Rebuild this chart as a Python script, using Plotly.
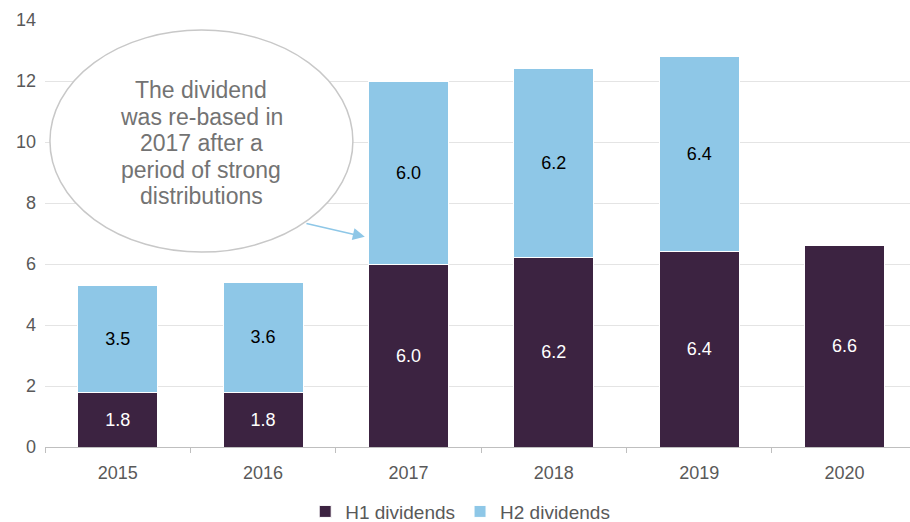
import plotly.graph_objects as go

# Dividend per share by year, split into interim (H1) and final (H2) payments
years = ["2015", "2016", "2017", "2018", "2019", "2020"]
h1_dividends = [1.8, 1.8, 6.0, 6.2, 6.4, 6.6]
h2_dividends = [3.5, 3.6, 6.0, 6.2, 6.4, None]
y_ticks = [0, 2, 4, 6, 8, 10, 12, 14]

callout_lines = ["The dividend", "was re-based in", "2017 after a",
                 "period of strong", "distributions"]

H1_COLOR = "#3C2341"
H2_COLOR = "#8EC7E7"
AXIS_TEXT = "#595959"
FONT = "Liberation Sans, Arial, sans-serif"


def fmt(values):
    return ["" if v is None else f"{v:.1f}" for v in values]


fig = go.Figure()
fig.add_trace(go.Bar(
    name="H1 dividends", x=years, y=h1_dividends,
    marker=dict(color=H1_COLOR, line=dict(color="white", width=1)),
    text=fmt(h1_dividends), textposition="inside", insidetextanchor="middle",
    textangle=0, textfont=dict(color="white", size=18, family=FONT),
    width=0.55,
))
fig.add_trace(go.Bar(
    name="H2 dividends", x=years, y=h2_dividends,
    marker=dict(color=H2_COLOR, line=dict(color="white", width=1)),
    text=fmt(h2_dividends), textposition="inside", insidetextanchor="middle",
    textangle=0, textfont=dict(color="black", size=18, family=FONT),
    width=0.55,
))

# Callout bubble explaining the 2017 re-basing
fig.add_shape(
    type="circle", xref="x", yref="y",
    x0=-0.466, x1=1.618, y0=6.39, y1=13.67,
    fillcolor="white", line=dict(color="#C8C8C8", width=1.5), layer="above",
)
# one annotation per line keeps the line spacing tight
line_top, line_step = 11.70, 0.868
for i, line in enumerate(callout_lines):
    fig.add_annotation(
        xref="x", yref="y", x=0.575, y=line_top - i * line_step,
        text=line, showarrow=False, yanchor="middle",
        font=dict(size=23, color="#737373", family=FONT),
    )
fig.add_annotation(
    xref="x", yref="y", axref="x", ayref="y",
    x=1.70, y=6.89, ax=1.288, ay=7.34,
    text="", showarrow=True, arrowhead=2, arrowsize=1.6, arrowwidth=1.5,
    arrowcolor=H2_COLOR, standoff=0,
)

fig.update_layout(
    barmode="stack",
    width=910, height=522,
    margin=dict(l=45, r=0, t=20, b=75, autoexpand=False),
    paper_bgcolor="white", plot_bgcolor="white",
    font=dict(family=FONT, size=18, color=AXIS_TEXT),
    showlegend=True,
    legend=dict(
        orientation="h", x=0.48, xanchor="center",
        yref="container", y=0.02, yanchor="middle",
        font=dict(size=19, color=AXIS_TEXT), traceorder="normal",
    ),
    xaxis=dict(
        type="category", range=[-0.5, 5.45],
        showline=True, linecolor="#BFBFBF", linewidth=1,
        ticks="outside", tickson="boundaries", ticklen=5, tickcolor="#BFBFBF",
        showgrid=False, tickfont=dict(size=18, color=AXIS_TEXT),
        ticklabelstandoff=9,
    ),
    yaxis=dict(
        range=[0, 14], tickvals=y_ticks,
        showgrid=True, gridcolor="#E4E4E4", gridwidth=1,
        zeroline=False, showline=False, ticks="",
        tickfont=dict(size=18, color=AXIS_TEXT), ticklabelstandoff=8,
    ),
)

fig.write_html("out.html")
